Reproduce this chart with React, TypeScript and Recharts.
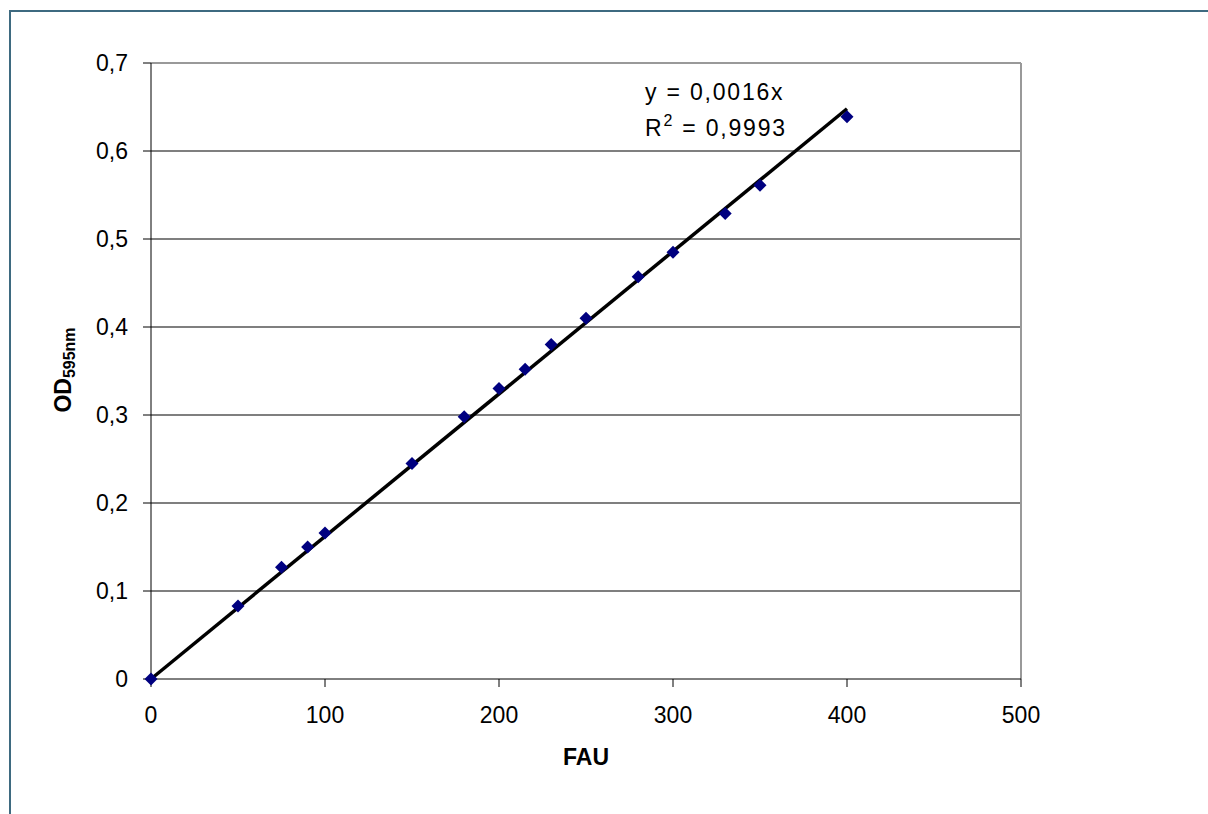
import React from "react";
import {
  ScatterChart, Scatter, XAxis, YAxis, CartesianGrid, ReferenceLine,
} from "recharts";

// FAU vs OD595nm readings
const fau = [0, 50, 75, 90, 100, 150, 180, 200, 215, 230, 250, 280, 300, 330, 350, 400];
const od = [0, 0.083, 0.127, 0.15, 0.166, 0.245, 0.298, 0.33, 0.352, 0.38, 0.41, 0.457, 0.485, 0.529, 0.561, 0.639];

// linear trendline through origin (drawn end points)
const trendX = [0, 400];
const trendY = [0, 0.648];

const xTicks = [0, 100, 200, 300, 400, 500];
const yTicks = [0, 0.1, 0.2, 0.3, 0.4, 0.5, 0.6, 0.7];
const gridValues = [0.1, 0.2, 0.3, 0.4, 0.5, 0.6];

const points = fau.map((x, i) => ({ x, y: od[i] }));

const font = "'Liberation Sans', Arial, sans-serif";

const Diamond = (props: any) => {
  const { cx, cy } = props;
  const r = 6.5;
  return (
    <polygon
      points={`${cx},${cy - r} ${cx + r},${cy} ${cx},${cy + r} ${cx - r},${cy}`}
      fill="#000080"
    />
  );
};

const fmt = (v: number) => String(Math.round(v * 10) / 10).replace(".", ",");

export default function App() {
  return (
    <div style={{ position: "absolute", left: 0, top: 0, width: 1208, height: 814, overflow: "hidden", background: "#fff", fontFamily: font }}>
      <div style={{
        position: "absolute", left: 9, top: 10, width: 1400, height: 1000,
        borderLeft: "2px solid #3e6a80", borderTop: "2px solid #3e6a80",
      }} />
      <ScatterChart
        width={1208}
        height={814}
        margin={{ top: 63, right: 187, bottom: 105, left: 91 }}
        style={{ position: "absolute", left: 0, top: 0 }}
      >
        <CartesianGrid vertical={false} stroke="#000" strokeWidth={1.2} horizontalValues={gridValues} />
        <ReferenceLine y={0.7} stroke="#999" strokeWidth={2} />
        <ReferenceLine x={500} stroke="#999" strokeWidth={2} />
        <XAxis
          type="number"
          dataKey="x"
          domain={[0, 500]}
          ticks={xTicks}
          interval={0}
          stroke="#000"
          tickSize={8}
          tickMargin={20}
          tick={{ fontSize: 23, fill: "#000", fontFamily: font }}
          label={{ value: "FAU", position: "bottom", offset: 40, style: { fontSize: 23, fontWeight: 700, fill: "#000", fontFamily: font } }}
        />
        <YAxis
          type="number"
          dataKey="y"
          domain={[0, 0.7]}
          ticks={yTicks}
          interval={0}
          width={60}
          stroke="#000"
          tickSize={8}
          tickMargin={15}
          tickFormatter={fmt}
          tick={{ fontSize: 23, fill: "#000", fontFamily: font }}
        />
        <ReferenceLine
          segment={[{ x: trendX[0], y: trendY[0] }, { x: trendX[1], y: trendY[1] }]}
          stroke="#000"
          strokeWidth={3.5}
          ifOverflow="visible"
        />
        <Scatter data={points} shape={Diamond} isAnimationActive={false} />
      </ScatterChart>
      <div style={{
        position: "absolute", left: 64, top: 370, transform: "translate(-50%, -50%) rotate(-90deg)",
        whiteSpace: "nowrap", fontSize: 23, fontWeight: 700, color: "#000",
      }}>
        OD<sub style={{ fontSize: 16, verticalAlign: "-4px" }}>595nm</sub>
      </div>
      <div style={{ position: "absolute", left: 645, top: 74, fontSize: 23, color: "#000", lineHeight: "36px", whiteSpace: "nowrap", letterSpacing: 1.8 }}>
        <div>y = 0,0016x</div>
        <div>R<sup style={{ fontSize: 16, verticalAlign: "10px", lineHeight: 0 }}>2</sup> = 0,9993</div>
      </div>
    </div>
  );
}
